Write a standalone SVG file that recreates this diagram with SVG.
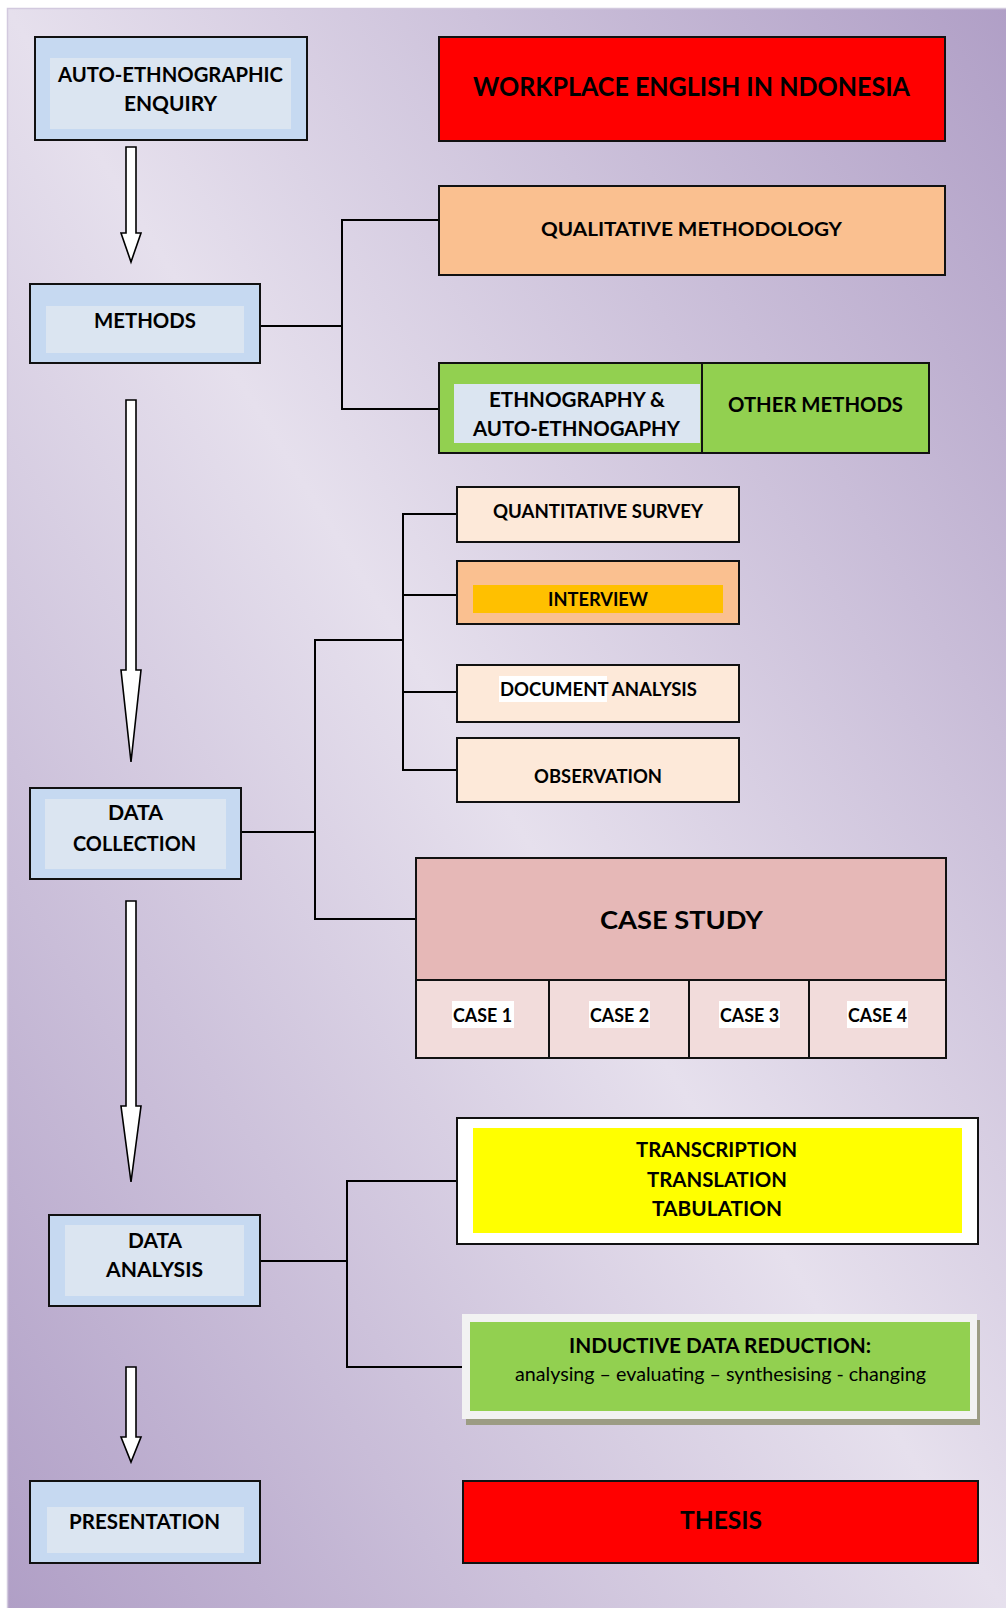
<svg xmlns="http://www.w3.org/2000/svg" width="1006" height="1608" viewBox="0 0 1006 1608">
  <defs>
    <linearGradient id="bg" x1="1" y1="0" x2="0" y2="1">
      <stop offset="0" stop-color="#b09fc6"/>
      <stop offset="0.5" stop-color="#e6e0ed"/>
      <stop offset="1" stop-color="#b09fc6"/>
    </linearGradient>
    <style>
      .box { stroke: #111; stroke-width: 2; }
      .t { font-family: Lato, "Liberation Sans", sans-serif; font-weight: bold; fill: #000; text-anchor: middle; }
      .r { font-family: Lato, "Liberation Sans", sans-serif; font-weight: normal; fill: #000; text-anchor: middle; }
      .blueOut { fill: #c6d9f1; }
      .blueIn { fill: #dbe5f1; }
      .peach { fill: #fac090; }
      .cream { fill: #fde9d9; }
      .green { fill: #92d050; }
      .red { fill: #ff0000; }
      .arrow { fill: #fff; stroke: #000; stroke-width: 1.6; stroke-linejoin: miter; }
      .conn { fill: none; stroke: #000; stroke-width: 2; }
    </style>
  </defs>

  <!-- page background -->
  <rect x="0" y="0" width="1006" height="1608" fill="#ffffff"/>
  <rect x="7.5" y="8.5" width="1000" height="1602" fill="url(#bg)" stroke="#d2c9de" stroke-width="1.5"/>

  <!-- flow arrows down the left side -->
  <g id="flow-arrows">
    <path class="arrow" d="M126,147 H136 V233 H141 L131,262 L121,233 H126 Z"/>
    <path class="arrow" d="M126,400 H136 V670 H141 L131,762 L121,670 H126 Z"/>
    <path class="arrow" d="M126,901 H136 V1106 H141 L131,1182 L121,1106 H126 Z"/>
    <path class="arrow" d="M126,1367 H136 V1437 H141 L131,1462 L121,1437 H126 Z"/>
  </g>

  <!-- connectors -->
  <g id="connectors">
    <path class="conn" d="M260,326 H342"/>
    <path class="conn" d="M439,220 H342 V409 H439"/>
    <path class="conn" d="M241,832 H315"/>
    <path class="conn" d="M403,640 H315 V919 H416"/>
    <path class="conn" d="M457,514 H403 V770 H457"/>
    <path class="conn" d="M403,595 H457"/>
    <path class="conn" d="M403,692 H457"/>
    <path class="conn" d="M260,1261 H347"/>
    <path class="conn" d="M457,1181 H347 V1367 H462"/>
  </g>

  <g id="auto-ethnographic-enquiry">
    <rect class="box blueOut" x="35" y="37" width="272" height="103"/>
    <rect class="blueIn" x="50" y="58" width="241" height="71"/>
    <text class="t" x="170.5" y="82" font-size="21" textLength="225" lengthAdjust="spacingAndGlyphs">AUTO-ETHNOGRAPHIC</text>
    <text class="t" x="170.5" y="111" font-size="21" textLength="93" lengthAdjust="spacingAndGlyphs">ENQUIRY</text>
  </g>

  <g id="workplace-english">
    <rect class="box red" x="439" y="37" width="506" height="104"/>
    <text class="t" x="691.5" y="96" font-size="26.5" textLength="437" lengthAdjust="spacingAndGlyphs">WORKPLACE ENGLISH IN NDONESIA</text>
  </g>

  <g id="qualitative-methodology">
    <rect class="box peach" x="439" y="186" width="506" height="89"/>
    <text class="t" x="691.5" y="236" font-size="19.5" textLength="301" lengthAdjust="spacingAndGlyphs">QUALITATIVE METHODOLOGY</text>
  </g>

  <g id="methods">
    <rect class="box blueOut" x="30" y="284" width="230" height="79"/>
    <rect class="blueIn" x="46" y="306" width="198" height="47"/>
    <text class="t" x="145" y="328" font-size="21" textLength="102" lengthAdjust="spacingAndGlyphs">METHODS</text>
  </g>

  <g id="ethnography">
    <rect class="box green" x="439" y="363" width="490" height="90"/>
    <line x1="702" y1="363" x2="702" y2="454" stroke="#111" stroke-width="2"/>
    <rect class="blueIn" x="454" y="384" width="246" height="59"/>
    <text class="t" x="577" y="407" font-size="20" textLength="176" lengthAdjust="spacingAndGlyphs">ETHNOGRAPHY &amp;</text>
    <text class="t" x="576.5" y="436" font-size="20" textLength="207" lengthAdjust="spacingAndGlyphs">AUTO-ETHNOGAPHY</text>
    <text class="t" x="815.5" y="412" font-size="20" textLength="175" lengthAdjust="spacingAndGlyphs">OTHER METHODS</text>
  </g>

  <g id="quantitative-survey">
    <rect class="box cream" x="457" y="487" width="282" height="55"/>
    <text class="t" x="598" y="518" font-size="18" textLength="210" lengthAdjust="spacingAndGlyphs">QUANTITATIVE SURVEY</text>
  </g>

  <g id="interview">
    <rect class="box peach" x="457" y="561" width="282" height="63"/>
    <rect x="473" y="585" width="250" height="28" fill="#ffc000"/>
    <text class="t" x="598" y="606" font-size="18" textLength="100" lengthAdjust="spacingAndGlyphs">INTERVIEW</text>
  </g>

  <g id="document-analysis">
    <rect class="box cream" x="457" y="665" width="282" height="57"/>
    <rect x="499" y="676" width="108" height="26" fill="#ffffff"/>
    <text class="t" x="598.5" y="696" font-size="18" textLength="197" lengthAdjust="spacingAndGlyphs">DOCUMENT ANALYSIS</text>
  </g>

  <g id="observation">
    <rect class="box cream" x="457" y="738" width="282" height="64"/>
    <text class="t" x="598" y="783" font-size="18" textLength="128" lengthAdjust="spacingAndGlyphs">OBSERVATION</text>
  </g>

  <g id="data-collection">
    <rect class="box blueOut" x="30" y="788" width="211" height="91"/>
    <rect class="blueIn" x="45" y="799" width="181" height="70"/>
    <text class="t" x="135.5" y="820" font-size="21" textLength="55" lengthAdjust="spacingAndGlyphs">DATA</text>
    <text class="t" x="134.5" y="851" font-size="21" textLength="123" lengthAdjust="spacingAndGlyphs">COLLECTION</text>
  </g>

  <g id="case-study">
    <rect class="box" x="416" y="858" width="530" height="122" fill="#e6b8b7"/>
    <rect class="box" x="416" y="980" width="530" height="78" fill="#f2dcdb"/>
    <line x1="549" y1="980" x2="549" y2="1058" stroke="#111" stroke-width="2"/>
    <line x1="689" y1="980" x2="689" y2="1058" stroke="#111" stroke-width="2"/>
    <line x1="809" y1="980" x2="809" y2="1058" stroke="#111" stroke-width="2"/>
    <text class="t" x="681.5" y="929" font-size="25" textLength="163" lengthAdjust="spacingAndGlyphs">CASE STUDY</text>
    <rect x="452" y="1001" width="62" height="27" fill="#ffffff"/>
    <rect x="589" y="1001" width="61" height="27" fill="#ffffff"/>
    <rect x="719" y="1001" width="61" height="27" fill="#ffffff"/>
    <rect x="847" y="1001" width="61" height="27" fill="#ffffff"/>
    <text class="t" x="482.5" y="1022" font-size="18" textLength="59" lengthAdjust="spacingAndGlyphs">CASE 1</text>
    <text class="t" x="619.5" y="1022" font-size="18" textLength="59" lengthAdjust="spacingAndGlyphs">CASE 2</text>
    <text class="t" x="749.5" y="1022" font-size="18" textLength="59" lengthAdjust="spacingAndGlyphs">CASE 3</text>
    <text class="t" x="877.5" y="1022" font-size="18" textLength="59" lengthAdjust="spacingAndGlyphs">CASE 4</text>
  </g>

  <g id="transcription">
    <rect class="box" x="457" y="1118" width="521" height="126" fill="#ffffff"/>
    <rect x="473" y="1128" width="489" height="105" fill="#ffff00"/>
    <text class="t" x="716.5" y="1157" font-size="20" textLength="161" lengthAdjust="spacingAndGlyphs">TRANSCRIPTION</text>
    <text class="t" x="717" y="1187" font-size="20" textLength="140" lengthAdjust="spacingAndGlyphs">TRANSLATION</text>
    <text class="t" x="717" y="1216" font-size="20" textLength="130" lengthAdjust="spacingAndGlyphs">TABULATION</text>
  </g>

  <g id="data-analysis">
    <rect class="box blueOut" x="49" y="1215" width="211" height="91"/>
    <rect class="blueIn" x="65" y="1225" width="179" height="71"/>
    <text class="t" x="155" y="1248" font-size="21" textLength="54" lengthAdjust="spacingAndGlyphs">DATA</text>
    <text class="t" x="154.5" y="1277" font-size="21" textLength="97" lengthAdjust="spacingAndGlyphs">ANALYSIS</text>
  </g>

  <g id="inductive-data-reduction">
    <rect x="466" y="1320" width="514" height="105" fill="#9c9c84"/>
    <rect x="462" y="1314" width="515" height="105" fill="#f2f2f2"/>
    <rect class="green" x="470" y="1322" width="500" height="89"/>
    <text class="t" x="720" y="1353" font-size="20" textLength="302" lengthAdjust="spacingAndGlyphs">INDUCTIVE DATA REDUCTION:</text>
    <text class="r" x="720.5" y="1381" font-size="19" textLength="411" lengthAdjust="spacingAndGlyphs">analysing – evaluating – synthesising - changing</text>
  </g>

  <g id="presentation">
    <rect class="box blueOut" x="30" y="1481" width="230" height="82"/>
    <rect class="blueIn" x="47" y="1507" width="197" height="46"/>
    <text class="t" x="144.5" y="1529" font-size="21" textLength="151" lengthAdjust="spacingAndGlyphs">PRESENTATION</text>
  </g>

  <g id="thesis">
    <rect class="box red" x="463" y="1481" width="515" height="82"/>
    <text class="t" x="721" y="1529" font-size="24" textLength="82" lengthAdjust="spacingAndGlyphs">THESIS</text>
  </g>
</svg>
